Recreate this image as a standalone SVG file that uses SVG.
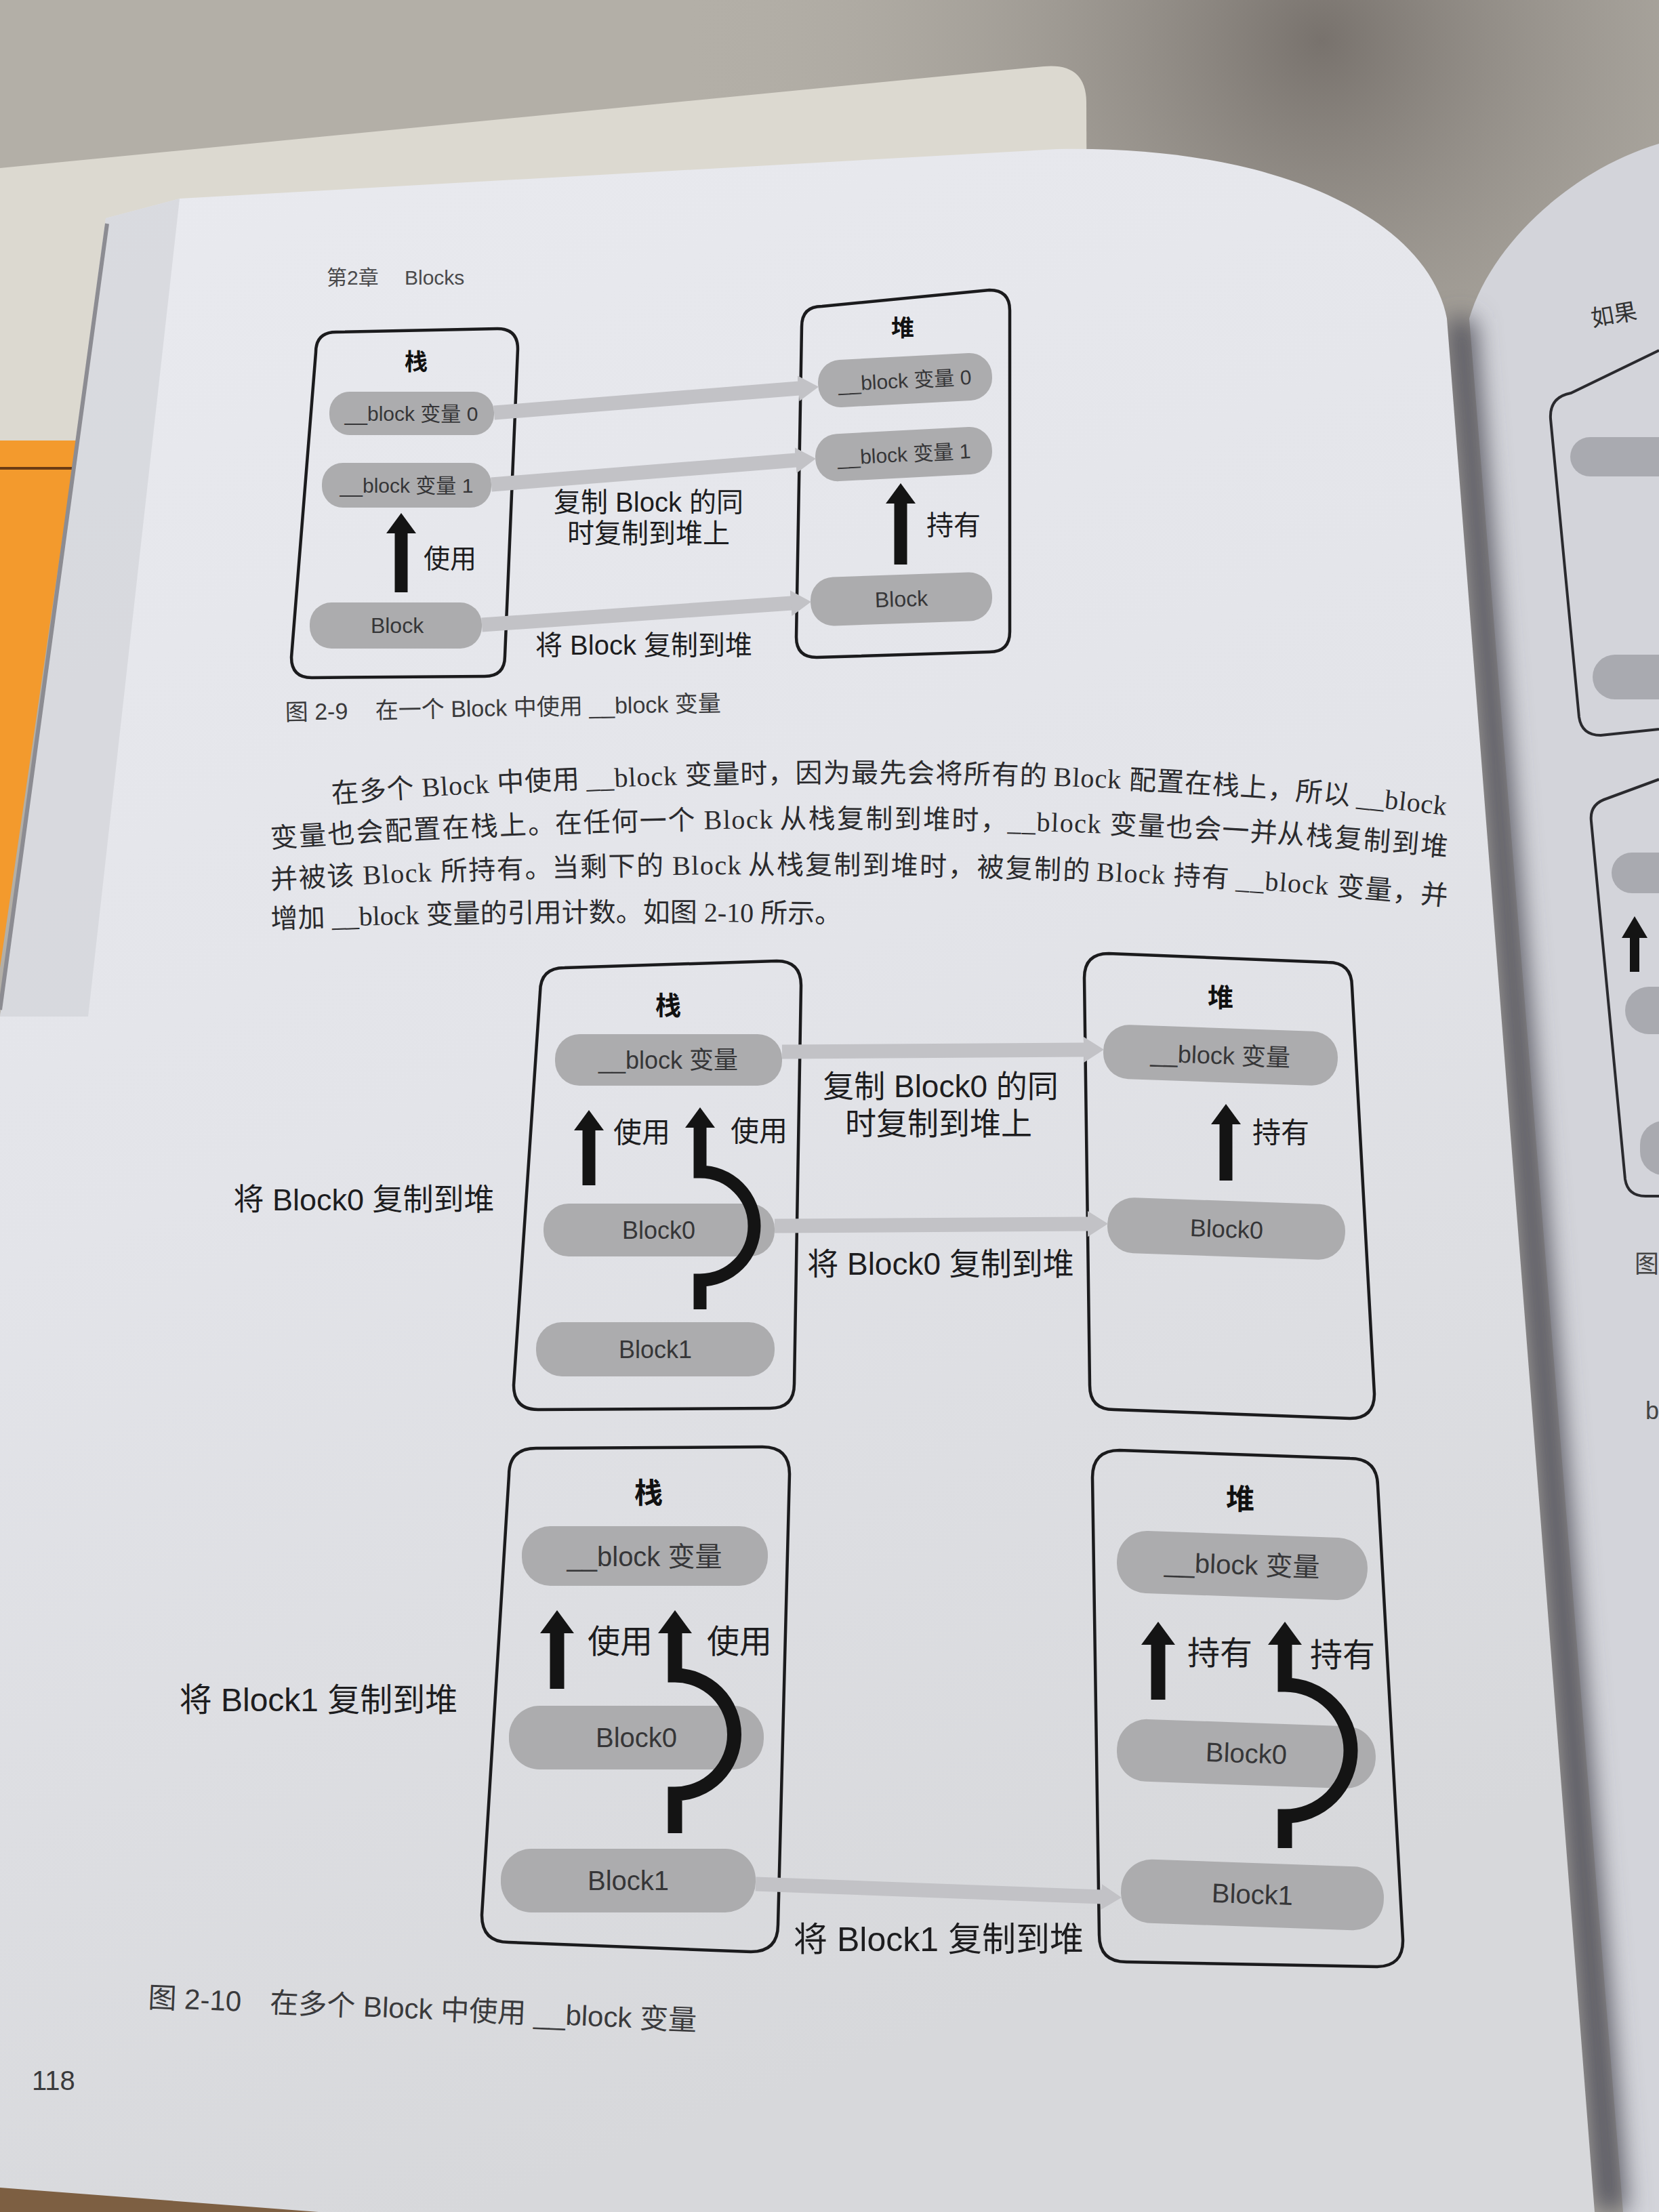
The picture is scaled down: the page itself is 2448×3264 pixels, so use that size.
<svg xmlns="http://www.w3.org/2000/svg" width="2448" height="3264" viewBox="0 0 2448 3264">
<defs>
<style>
.sans{font-family:'Liberation Sans','Noto Sans CJK SC',sans-serif}
.box{fill:none;stroke:#1b1b1d;stroke-width:4.5;stroke-linejoin:round}
.pill{fill:#acacae}
.ptxt{font-family:'Liberation Sans','Noto Sans CJK SC',sans-serif;fill:#363638;text-anchor:middle}
.lbl{font-family:'Liberation Sans','Noto Sans CJK SC',sans-serif;fill:#1d1d1f;text-anchor:middle}
.ttl{font-family:'Liberation Sans','Noto Sans CJK SC',sans-serif;font-weight:bold;fill:#111;text-anchor:middle}
.copy{fill:none;stroke:#c2c2c6;stroke-width:21;marker-end:url(#gh)}
.use{fill:none;stroke:#141414;stroke-width:19;stroke-linejoin:miter;marker-end:url(#bh)}
.use2{fill:none;stroke:#141414;stroke-width:21;stroke-linejoin:miter;marker-end:url(#bh2)}
.para{font-family:'Liberation Serif','Noto Sans CJK SC',serif;font-size:40px;fill:#2b2b2e}
.cap{font-family:'Liberation Sans','Noto Sans CJK SC',sans-serif;fill:#3a3a3c}
.rp{fill:#a9aab0}
.rpbox{fill:none;stroke:#2a2a2e;stroke-width:4}
</style>
<linearGradient id="pageg" x1="0" y1="0" x2="0.3" y2="1">
<stop offset="0" stop-color="#e9eaef"/>
<stop offset="0.5" stop-color="#e3e4e9"/>
<stop offset="1" stop-color="#d7d8db"/>
</linearGradient>
<radialGradient id="shade" cx="1950" cy="60" r="950" gradientUnits="userSpaceOnUse">
<stop offset="0" stop-color="#756f6a" stop-opacity="0.95"/>
<stop offset="1" stop-color="#b3afa7" stop-opacity="0"/>
</radialGradient>
<filter id="blur" x="-50%" y="-5%" width="200%" height="110%"><feGaussianBlur stdDeviation="18"/></filter>
<marker id="gh" markerUnits="userSpaceOnUse" markerWidth="30" markerHeight="38" viewBox="0 0 30 38" refX="1" refY="19" orient="auto"><path d="M0,0 L30,19 L0,38 Z" fill="#c2c2c6"/></marker>
<marker id="bh" markerUnits="userSpaceOnUse" markerWidth="30" markerHeight="44" viewBox="0 0 30 44" refX="1" refY="22" orient="auto"><path d="M0,0 L30,22 L0,44 Z" fill="#141414"/></marker>
<marker id="bh2" markerUnits="userSpaceOnUse" markerWidth="34" markerHeight="50" viewBox="0 0 34 50" refX="1" refY="25" orient="auto"><path d="M0,0 L34,25 L0,50 Z" fill="#141414"/></marker>
<path id="p1" d="M490,1185 Q1400,1116 2135,1203"/>
<path id="p2" d="M400,1251 Q1350,1187 2135,1264"/>
<path id="p3" d="M400,1312 Q1350,1258 2135,1336"/>
<path id="p4" d="M400,1370 Q900,1352 1400,1366"/>
</defs>

<g id="background">
<rect width="2448" height="3264" fill="#b3afa7"/>
<rect width="2448" height="1000" fill="url(#shade)"/>
<path d="M0,248 L1540,98 Q1602,92 1603,150 L1605,700 L0,700 Z" fill="#dcd9d0"/>
<path d="M2448,212 C2320,250 2200,360 2168,470 L2395,3264 L2448,3264 Z" fill="#d3d4da"/>
<path d="M2135,470 L2353,3264 L2400,3264 L2175,470 Z" fill="#55555f" filter="url(#blur)"/>
<path d="M0,650 L113,650 L0,1428 Z" fill="#f39a2d"/>
<path d="M0,691 L106,691" stroke="#6b3b14" stroke-width="4"/>
<path d="M156,322 L265,293 L1560,220 C1900,214 2108,330 2135,470 L2353,3264 L0,3264 L0,1500 Z" fill="url(#pageg)"/>
<path d="M156,322 L265,293 L130,1500 L0,1500 Z" fill="#cfd0d5" opacity="0.6"/>
<path d="M158,330 L0,1490" stroke="#8c8c92" stroke-width="6"/>
<path d="M0,3228 L470,3264 L0,3264 Z" fill="#7d5f42"/>
</g>

<g id="right-page">
<text x="2350" y="482" class="sans" font-size="34" fill="#333" transform="rotate(-10 2350 482)">如果</text>
<path class="rpbox" d="M2448,517 L2318,580 Q2286,586 2288,618 L2330,1058 Q2334,1085 2362,1085 L2448,1076"/>
<rect class="rp" x="2317" y="645" width="220" height="58" rx="29"/>
<rect class="rp" x="2350" y="966" width="160" height="66" rx="33"/>
<path class="rpbox" d="M2448,1150 L2372,1178 Q2345,1186 2348,1212 L2398,1740 Q2402,1765 2428,1765 L2448,1765"/>
<rect class="rp" x="2378" y="1258" width="120" height="60" rx="30"/>
<path d="M2412,1434 L2412,1382" stroke="#141414" stroke-width="14"/>
<path d="M2393,1384 L2431,1384 L2412,1352 Z" fill="#141414"/>
<rect class="rp" x="2398" y="1456" width="100" height="70" rx="35"/>
<rect class="rp" x="2420" y="1654" width="80" height="80" rx="35"/>
<text x="2412" y="1878" class="sans" font-size="36" fill="#444">图</text>
<text x="2428" y="2094" class="sans" font-size="36" fill="#444">b</text>
</g>

<g id="page-text">
<text x="482" y="420" class="sans" font-size="30" fill="#4a4a4c">第2章</text>
<text x="597" y="420" class="sans" font-size="30" fill="#4a4a4c">Blocks</text>
<!-- paragraph line 1 -->
<text class="para"><textPath href="#p1" startOffset="0" textLength="366" lengthAdjust="spacing">在多个 Block 中使用</textPath></text>
<text class="para"><textPath href="#p1" startOffset="376" textLength="308" lengthAdjust="spacing">__block 变量时，</textPath></text>
<text class="para"><textPath href="#p1" startOffset="684" textLength="371" lengthAdjust="spacing">因为最先会将所有的</textPath></text>
<text class="para"><textPath href="#p1" startOffset="1065" textLength="438" lengthAdjust="spacing">Block 配置在栈上，所以</textPath></text>
<text class="para"><textPath href="#p1" startOffset="1513" textLength="133" lengthAdjust="spacing">__block</textPath></text>
<!-- paragraph line 2 -->
<text class="para"><textPath href="#p2" startOffset="0" textLength="420" lengthAdjust="spacing">变量也会配置在栈上。</textPath></text>
<text class="para"><textPath href="#p2" startOffset="420" textLength="321" lengthAdjust="spacing">在任何一个 Block</textPath></text>
<text class="para"><textPath href="#p2" startOffset="751" textLength="336" lengthAdjust="spacing">从栈复制到堆时，</textPath></text>
<text class="para"><textPath href="#p2" startOffset="1087" textLength="398" lengthAdjust="spacing">__block 变量也会一并</textPath></text>
<text class="para"><textPath href="#p2" startOffset="1485" textLength="252" lengthAdjust="spacing">从栈复制到堆</textPath></text>
<!-- paragraph line 3 -->
<text class="para"><textPath href="#p3" startOffset="0" textLength="415" lengthAdjust="spacing">并被该 Block 所持有。</textPath></text>
<text class="para"><textPath href="#p3" startOffset="415" textLength="279" lengthAdjust="spacing">当剩下的 Block</textPath></text>
<text class="para"><textPath href="#p3" startOffset="704" textLength="504" lengthAdjust="spacing">从栈复制到堆时，被复制的</textPath></text>
<text class="para"><textPath href="#p3" startOffset="1218" textLength="195" lengthAdjust="spacing">Block 持有</textPath></text>
<text class="para"><textPath href="#p3" startOffset="1424" textLength="313" lengthAdjust="spacing">__block 变量，并</textPath></text>
<!-- paragraph line 4 -->
<text class="para"><textPath href="#p4">增加 __block 变量的引用计数。如图 2-10 所示。</textPath></text>
<g transform="rotate(-1.2 421 1063)">
<text x="421" y="1063" class="cap" font-size="34">图 2-9</text>
<text x="554" y="1063" class="cap" font-size="34">在一个 Block 中使用 __block 变量</text>
</g>
<g transform="rotate(2.4 218 2962)">
<text x="218" y="2962" class="cap" font-size="42">图 2-10</text>
<text x="398" y="2962" class="cap" font-size="42">在多个 Block 中使用 __block 变量</text>
</g>
<text x="47" y="3084" class="cap" font-size="40">118</text>
</g>

<!-- Figure 2-9 nodes -->
<g id="f9-stack">
<path class="box" d="M496,490 L734,485 Q764,485 764,515 L745,968 Q745,998 715,998 L460,1000 Q430,1000 430,970 L466,520 Q466,490 496,490 Z"/>
<text x="614" y="546" class="ttl" font-size="34">栈</text>
</g>
<g id="f9-heap">
<path class="box" d="M1213,452 L1460,428 Q1490,428 1490,458 L1490,932 Q1490,962 1460,962 L1205,970 Q1175,970 1175,940 L1183,482 Q1183,452 1213,452 Z"/>
<text x="1332" y="496" class="ttl" font-size="34">堆</text>
</g>
<g id="f9-s-var0"><rect class="pill" x="486" y="578" width="243" height="64" rx="30"/><text x="607" y="621" class="ptxt" font-size="30">__block 变量 0</text></g>
<g id="f9-s-var1"><rect class="pill" x="475" y="683" width="250" height="66" rx="31"/><text x="600" y="727" class="ptxt" font-size="30">__block 变量 1</text></g>
<g id="f9-s-block"><rect class="pill" x="457" y="889" width="254" height="68" rx="32"/><text x="586" y="934" class="ptxt" font-size="32">Block</text></g>
<g id="f9-h-var0" transform="rotate(-3 1335 561)"><rect class="pill" x="1207" y="526" width="257" height="70" rx="33"/><text x="1335" y="572" class="ptxt" font-size="30">__block 变量 0</text></g>
<g id="f9-h-var1" transform="rotate(-3 1334 670)"><rect class="pill" x="1203" y="635" width="261" height="70" rx="33"/><text x="1334" y="681" class="ptxt" font-size="30">__block 变量 1</text></g>
<g id="f9-h-block" transform="rotate(-2 1330 884)"><rect class="pill" x="1196" y="848" width="268" height="72" rx="34"/><text x="1330" y="895" class="ptxt" font-size="32">Block</text></g>

<!-- Figure 2-10 (top) nodes -->
<g id="f10a-stack">
<path class="box" d="M833,1428 L1146,1418 Q1182,1418 1182,1454 L1172,2042 Q1172,2078 1136,2078 L794,2080 Q758,2080 758,2044 L797,1464 Q797,1428 833,1428 Z"/>
<text x="986" y="1497" class="ttl" font-size="38">栈</text>
</g>
<g id="f10a-heap">
<path class="box" d="M1636,1407 L1959,1420 Q1995,1420 1995,1456 L2028,2057 Q2028,2093 1992,2093 L1644,2080 Q1608,2080 1608,2044 L1600,1443 Q1600,1407 1636,1407 Z"/>
<text x="1801" y="1485" class="ttl" font-size="38">堆</text>
</g>
<g id="f10a-s-var"><rect class="pill" x="819" y="1526" width="335" height="76" rx="36"/><text x="986" y="1577" class="ptxt" font-size="36">__block 变量</text></g>
<g id="f10a-s-block0"><rect class="pill" x="802" y="1776" width="341" height="78" rx="37"/><text x="972" y="1828" class="ptxt" font-size="36">Block0</text></g>
<g id="f10a-s-block1"><rect class="pill" x="791" y="1951" width="352" height="80" rx="38"/><text x="967" y="2004" class="ptxt" font-size="36">Block1</text></g>
<g id="f10a-h-var" transform="rotate(2 1801 1557)"><rect class="pill" x="1628" y="1517" width="346" height="80" rx="38"/><text x="1801" y="1570" class="ptxt" font-size="36">__block 变量</text></g>
<g id="f10a-h-block0" transform="rotate(2 1810 1813)"><rect class="pill" x="1634" y="1772" width="351" height="82" rx="39"/><text x="1810" y="1826" class="ptxt" font-size="36">Block0</text></g>

<!-- Figure 2-10 (bottom) nodes -->
<g id="f10b-stack">
<path class="box" d="M791,2137 L1125,2135 Q1165,2135 1165,2175 L1148,2840 Q1148,2880 1108,2880 L751,2866 Q711,2866 711,2826 L751,2177 Q751,2137 791,2137 Z"/>
<text x="957" y="2218" class="ttl" font-size="42">栈</text>
</g>
<g id="f10b-heap">
<path class="box" d="M1652,2140 L1992,2152 Q2032,2152 2033,2192 L2070,2862 Q2071,2902 2031,2902 L1662,2895 Q1622,2895 1622,2855 L1612,2180 Q1612,2140 1652,2140 Z"/>
<text x="1830" y="2227" class="ttl" font-size="42">堆</text>
</g>
<g id="f10b-s-var"><rect class="pill" x="770" y="2252" width="363" height="88" rx="42"/><text x="951" y="2311" class="ptxt" font-size="40">__block 变量</text></g>
<g id="f10b-s-block0"><rect class="pill" x="751" y="2517" width="376" height="94" rx="45"/><text x="939" y="2578" class="ptxt" font-size="40">Block0</text></g>
<g id="f10b-s-block1"><rect class="pill" x="739" y="2728" width="376" height="94" rx="45"/><text x="927" y="2789" class="ptxt" font-size="40">Block1</text></g>
<g id="f10b-h-var" transform="rotate(2 1833 2309)"><rect class="pill" x="1648" y="2264" width="370" height="92" rx="44"/><text x="1833" y="2323" class="ptxt" font-size="40">__block 变量</text></g>
<g id="f10b-h-block0" transform="rotate(2 1839 2587)"><rect class="pill" x="1648" y="2542" width="382" height="92" rx="44"/><text x="1839" y="2601" class="ptxt" font-size="40">Block0</text></g>
<g id="f10b-h-block1" transform="rotate(2 1848 2796)"><rect class="pill" x="1654" y="2749" width="388" height="94" rx="45"/><text x="1848" y="2809" class="ptxt" font-size="40">Block1</text></g>

<g id="connectors">
<!-- figure 2-9 copies -->
<path class="copy" d="M729,609 L1179,573"/>
<path class="copy" d="M725,715 L1175,679"/>
<path class="copy" d="M711,922 L1168,890"/>
<text x="957" y="755" class="lbl" font-size="40">复制 Block 的同</text>
<text x="957" y="801" class="lbl" font-size="40">时复制到堆上</text>
<text x="950" y="966" class="lbl" font-size="40">将 Block 复制到堆</text>
<!-- figure 2-9 use / hold -->
<path class="use" d="M592,874 L592,786"/>
<text x="664" y="838" class="lbl" font-size="39">使用</text>
<path class="use" d="M1329,833 L1329,742"/>
<text x="1407" y="789" class="lbl" font-size="40">持有</text>

<!-- figure 2-10 top copies -->
<path class="copy" d="M1154,1552 L1600,1549"/>
<path class="copy" d="M1143,1809 L1606,1806"/>
<text x="1388" y="1619" class="lbl" font-size="46">复制 Block0 的同</text>
<text x="1385" y="1674" class="lbl" font-size="46">时复制到堆上</text>
<text x="1388" y="1881" class="lbl" font-size="46">将 Block0 复制到堆</text>
<text x="537" y="1786" class="lbl" font-size="45">将 Block0 复制到堆</text>
<!-- figure 2-10 top use / hold -->
<path class="use" d="M869,1749 L869,1667"/>
<text x="947" y="1686" class="lbl" font-size="42">使用</text>
<path class="use" d="M1033,1932 L1033,1889 A80,80 0 0 0 1033,1729 L1033,1663"/>
<text x="1120" y="1684" class="lbl" font-size="42">使用</text>
<path class="use" d="M1809,1742 L1809,1658"/>
<text x="1890" y="1686" class="lbl" font-size="42">持有</text>

<!-- figure 2-10 bottom copies -->
<path class="copy" d="M1115,2780 L1626,2799"/>
<text x="1385" y="2879" class="lbl" font-size="50">将 Block1 复制到堆</text>
<text x="470" y="2525" class="lbl" font-size="48">将 Block1 复制到堆</text>
<!-- figure 2-10 bottom use / hold -->
<path class="use2" d="M822,2492 L822,2409"/>
<text x="915" y="2439" class="lbl" font-size="48">使用</text>
<path class="use2" d="M996,2705 L996,2647 A87.5,87.5 0 0 0 996,2472 L996,2409"/>
<text x="1091" y="2439" class="lbl" font-size="48">使用</text>
<path class="use2" d="M1709,2508 L1709,2426"/>
<text x="1800" y="2456" class="lbl" font-size="48">持有</text>
<path class="use2" d="M1896,2727 L1896,2680 A97,97 0 0 0 1896,2486 L1896,2426"/>
<text x="1981" y="2459" class="lbl" font-size="48">持有</text>
</g>
</svg>
